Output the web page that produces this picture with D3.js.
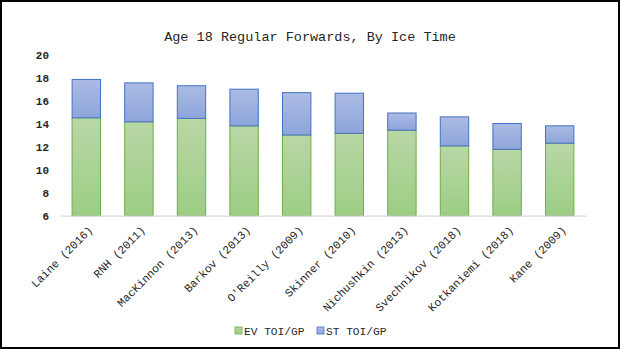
<!DOCTYPE html>
<html><head><meta charset="utf-8">
<script src="https://cdn.jsdelivr.net/npm/d3@7"></script>
<style>html,body{margin:0;padding:0;background:#fff;}svg{display:block;}</style>
</head><body>
<script>
const categories = ["Laine (2016)","RNH (2011)","MacKinnon (2013)","Barkov (2013)","O'Reilly (2009)","Skinner (2010)","Nichushkin (2013)","Svechnikov (2018)","Kotkaniemi (2018)","Kane (2009)"];
const evValues = [14.55,14.2,14.5,13.85,13.05,13.2,13.47,12.1,11.8,12.33];
const stValues = [3.35,3.4,2.85,3.2,3.7,3.5,1.5,2.53,2.25,1.52];
const seriesNames = ["EV TOI/GP","ST TOI/GP"];
const yTicks = [6,8,10,12,14,16,18,20];
const title = "Age 18 Regular Forwards, By Ice Time";

const W = 620, H = 349;
const font = "'Liberation Mono','DejaVu Sans Mono',monospace";
const svg = d3.select("body").append("svg").attr("width", W).attr("height", H);

const defs = svg.append("defs");
function grad(id, c1, c2){
  const g = defs.append("linearGradient").attr("id", id).attr("x1",0).attr("y1",0).attr("x2",0).attr("y2",1);
  g.append("stop").attr("offset","0%").attr("stop-color",c1);
  g.append("stop").attr("offset","100%").attr("stop-color",c2);
}
grad("gGreen", "#b8d7a6", "#9dcd84");
grad("gBlue", "#abbbe4", "#8ea5db");

const x = d3.scaleBand().domain(categories).range([60, 586]).paddingInner(0.46).paddingOuter(0.23);
const y = d3.scaleLinear().domain([6, 20]).range([215.7, 55.4]);

// title
svg.append("text").attr("x", 310).attr("y", 41).attr("text-anchor","middle")
  .attr("font-family", font).attr("font-size", 13.5).attr("fill","#262626").text(title);

// y axis labels
const yAxis = d3.axisLeft(y).tickValues(yTicks).tickSize(0).tickPadding(0);
const ya = svg.append("g").attr("transform","translate(49,0)").call(yAxis);
ya.select(".domain").remove();
ya.selectAll("text").attr("font-family", font).attr("font-size", 11).attr("fill","#262626").attr("font-weight","bold");

// bars
const data = categories.map((c,i)=>({c, ev: evValues[i], st: stValues[i]}));
const g = svg.append("g");
g.selectAll("rect.ev").data(data).join("rect").attr("class","ev")
  .attr("x", d=>x(d.c)).attr("width", x.bandwidth())
  .attr("y", d=>y(d.ev)).attr("height", d=>y(6)-y(d.ev))
  .attr("fill","url(#gGreen)").attr("stroke","#70ad47").attr("stroke-width",1);
g.selectAll("rect.st").data(data).join("rect").attr("class","st")
  .attr("x", d=>x(d.c)).attr("width", x.bandwidth())
  .attr("y", d=>y(d.ev+d.st)).attr("height", d=>y(d.ev)-y(d.ev+d.st))
  .attr("fill","url(#gBlue)").attr("stroke","#4472c4").attr("stroke-width",1);

// x axis
const xAxis = d3.axisBottom(x).tickSize(0).tickPadding(0);
const xa = svg.append("g").attr("transform", `translate(0,${y(6)})`).call(xAxis);
xa.select(".domain").attr("stroke","#d9d9d9").attr("stroke-width",1.2);
xa.selectAll("text").attr("font-family", font).attr("font-size", 11.3).attr("fill","#262626")
  .attr("text-anchor","end").attr("dy", null)
  .attr("transform","translate(7,15) rotate(-45)");

// legend
const legend = svg.append("g");
const lx = [235, 317];
const colors = [["url(#gGreen)","#70ad47"],["url(#gBlue)","#4472c4"]];
seriesNames.forEach((n,i)=>{
  legend.append("rect").attr("x", lx[i]).attr("y", 327).attr("width",7).attr("height",7)
    .attr("fill", colors[i][0]).attr("stroke", colors[i][1]).attr("stroke-width",0.8);
  legend.append("text").attr("x", lx[i]+9).attr("y", 335).attr("font-family", font).attr("font-size", 11.2)
    .attr("fill","#262626").text(n);
});

// border
svg.append("rect").attr("x",1).attr("y",1).attr("width",W-2).attr("height",H-2)
  .attr("fill","none").attr("stroke","#000").attr("stroke-width",2);
</script>
</body></html>
